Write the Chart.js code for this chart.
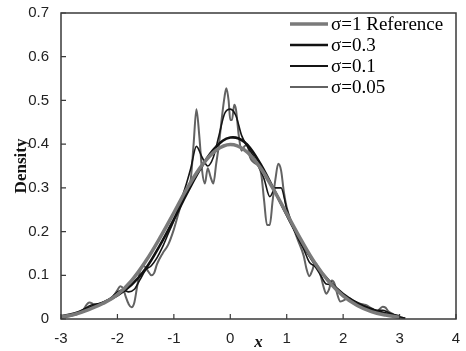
<!DOCTYPE html>
<html>
<head>
<meta charset="utf-8">
<script src="https://cdn.jsdelivr.net/npm/chart.js@4/dist/chart.umd.min.js"></script>
<style>
  body { margin: 0; background: #fff; }
  #wrap { width: 466px; height: 351px; }
</style>
</head>
<body>
<div id="wrap"><canvas id="chart1" width="466" height="351"></canvas></div>
<script>
// labels for the four curves
const seriesNames = ['σ=1 Reference', 'σ=0.3', 'σ=0.1', 'σ=0.05'];

// axis ticks
const xTicks = [-3, -2, -1, 0, 1, 2, 3, 4];
const yTicks = [0, 0.1, 0.2, 0.3, 0.4, 0.5, 0.6, 0.7];

// smooth curves
const xSmooth = [-3, -2.75, -2.5, -2.25, -2, -1.75, -1.5, -1.25, -1, -0.75, -0.5, -0.25, 0,
                 0.25, 0.5, 0.75, 1, 1.25, 1.5, 1.75, 2, 2.25, 2.5, 2.75, 3];
const yRef = [0.005, 0.011, 0.022, 0.036, 0.056, 0.088, 0.132, 0.185, 0.243, 0.302, 0.352, 0.386, 0.399,
              0.387, 0.352, 0.300, 0.241, 0.182, 0.128, 0.085, 0.053, 0.031, 0.017, 0.009, 0.004];
const ySig03 = [0.006, 0.013, 0.026, 0.038, 0.054, 0.078, 0.115, 0.168, 0.228, 0.292, 0.350, 0.394, 0.415,
                0.405, 0.362, 0.302, 0.238, 0.178, 0.126, 0.087, 0.057, 0.036, 0.022, 0.013, 0.006];

// sigma = 0.1
const xSig01 = [-3.0, -2.9, -2.8, -2.7, -2.6, -2.5, -2.4, -2.3, -2.2, -2.1, -2.0, -1.9, -1.8, -1.7, -1.6,
                -1.5, -1.4, -1.3, -1.2, -1.1, -1.0, -0.9, -0.8, -0.7, -0.6, -0.5, -0.4, -0.3, -0.2, -0.1,
                0.0, 0.1, 0.2, 0.3, 0.4, 0.5, 0.6, 0.7, 0.8, 0.9, 1.0, 1.1, 1.2, 1.3, 1.4, 1.5, 1.6, 1.7,
                1.8, 1.9, 2.0, 2.1, 2.2, 2.3, 2.4, 2.5, 2.6, 2.7, 2.8, 2.9, 3.0, 3.1];
const ySig01 = [0.004, 0.006, 0.009, 0.014, 0.022, 0.030, 0.034, 0.036, 0.041, 0.050, 0.062, 0.066, 0.062, 0.068, 0.090,
                0.112, 0.122, 0.140, 0.165, 0.195, 0.225, 0.262, 0.300, 0.345, 0.395, 0.370, 0.350, 0.370, 0.420, 0.470,
                0.480, 0.465, 0.420, 0.395, 0.375, 0.350, 0.320, 0.280, 0.300, 0.300, 0.252, 0.215, 0.185, 0.160, 0.130, 0.120, 0.100, 0.080,
                0.078, 0.065, 0.052, 0.045, 0.040, 0.033, 0.028, 0.024, 0.020, 0.020, 0.015, 0.010, 0.005, 0.002];

// sigma = 0.05
const xSig005 = [-3.0, -2.9, -2.8, -2.7, -2.6, -2.55, -2.5, -2.45, -2.4, -2.3, -2.2, -2.1, -2.0, -1.95, -1.9,
                 -1.85, -1.8, -1.75, -1.7, -1.65, -1.6, -1.55, -1.5, -1.45, -1.4, -1.35, -1.3, -1.2, -1.1, -1.0,
                 -0.9, -0.8, -0.75, -0.7, -0.65, -0.6, -0.55, -0.5, -0.45, -0.4, -0.35, -0.3, -0.25, -0.2, -0.15,
                 -0.1, -0.07, -0.03, 0.0, 0.03, 0.07, 0.1, 0.15, 0.2, 0.25, 0.3, 0.35, 0.4, 0.45, 0.5, 0.55,
                 0.6, 0.65, 0.7, 0.75, 0.8, 0.85, 0.9, 0.95, 1.0, 1.1, 1.2, 1.3, 1.35, 1.4, 1.45, 1.5, 1.55,
                 1.6, 1.65, 1.7, 1.75, 1.8, 1.85, 1.9, 1.95, 2.0, 2.1, 2.2, 2.3, 2.4, 2.5, 2.6, 2.7, 2.75,
                 2.8, 2.9, 3.0, 3.1];
const ySig005 = [0.003, 0.005, 0.008, 0.012, 0.022, 0.032, 0.038, 0.036, 0.030, 0.033, 0.040, 0.048, 0.066, 0.075, 0.070,
                 0.050, 0.034, 0.027, 0.038, 0.075, 0.110, 0.122, 0.118, 0.108, 0.100, 0.105, 0.125, 0.150, 0.170, 0.205,
                 0.250, 0.290, 0.300, 0.320, 0.400, 0.480, 0.420, 0.340, 0.310, 0.345, 0.325, 0.310, 0.355, 0.400, 0.460,
                 0.510, 0.528, 0.500, 0.455, 0.455, 0.490, 0.480, 0.420, 0.385, 0.395, 0.400, 0.370, 0.360, 0.355, 0.350, 0.330,
                 0.270, 0.215, 0.215, 0.270, 0.320, 0.355, 0.340, 0.290, 0.255, 0.215, 0.180, 0.145, 0.115, 0.098, 0.110, 0.128, 0.120,
                 0.100, 0.075, 0.058, 0.068, 0.088, 0.080, 0.055, 0.040, 0.042, 0.048, 0.040, 0.035, 0.032, 0.025, 0.018, 0.028, 0.026,
                 0.018, 0.010, 0.004, 0.002];

function pts(xs, ys) {
  return xs.map((x, i) => ({ x: x, y: ys[i] }));
}

const lineStyles = [
  { color: '#7a7a7a', width: 3.5 },
  { color: '#111111', width: 2.6 },
  { color: '#151515', width: 1.6 },
  { color: '#626262', width: 2 }
];

// frame + inward ticks
const framePlugin = {
  id: 'frame',
  afterDraw(chart) {
    const ctx = chart.ctx;
    const a = chart.chartArea;
    ctx.save();
    ctx.strokeStyle = '#3a3a3a';
    ctx.lineWidth = 1.5;
    ctx.strokeRect(a.left, a.top, a.right - a.left, a.bottom - a.top);
    ctx.lineWidth = 1.2;
    const xs = chart.scales.x, ys = chart.scales.y;
    ctx.beginPath();
    xs.ticks.forEach(t => {
      const p = xs.getPixelForValue(t.value);
      ctx.moveTo(p, a.bottom); ctx.lineTo(p, a.bottom - 5);
    });
    ys.ticks.forEach(t => {
      const p = ys.getPixelForValue(t.value);
      ctx.moveTo(a.left, p); ctx.lineTo(a.left + 5, p);
    });
    ctx.stroke();
    ctx.restore();
  }
};

// legend in the top right corner
const legendPlugin = {
  id: 'cornerLegend',
  afterDatasetsDraw(chart) {
    const ctx = chart.ctx;
    ctx.save();
    ctx.font = '19px "Liberation Serif", "Times New Roman", serif';
    ctx.textBaseline = 'middle';
    ctx.fillStyle = '#000';
    const rows = [24, 45, 66, 87];
    chart.data.datasets.forEach((ds, i) => {
      ctx.strokeStyle = ds.borderColor;
      ctx.lineWidth = Math.max(ds.borderWidth, 1.8);
      ctx.beginPath();
      ctx.moveTo(290, rows[i]);
      ctx.lineTo(328, rows[i]);
      ctx.stroke();
      ctx.fillText(ds.label, 331, rows[i] + 1);
    });
    ctx.restore();
  }
};

const ctx = document.getElementById('chart1');
new Chart(ctx, {
  type: 'line',
  data: {
    datasets: [
      { label: seriesNames[0], data: pts(xSmooth, yRef), tension: 0.4 },
      { label: seriesNames[1], data: pts(xSmooth, ySig03), tension: 0.4 },
      { label: seriesNames[2], data: pts(xSig01, ySig01), cubicInterpolationMode: 'monotone' },
      { label: seriesNames[3], data: pts(xSig005, ySig005), cubicInterpolationMode: 'monotone' }
    ].map((d, i) => Object.assign(d, {
      borderColor: lineStyles[i].color,
      borderWidth: lineStyles[i].width,
      pointRadius: 0,
      fill: false
    }))
  },
  options: {
    responsive: false,
    animation: false,
    events: [],
    layout: { padding: { left: 0, top: 11, right: 10, bottom: 0 } },
    plugins: {
      legend: { display: false },
      tooltip: { enabled: false }
    },
    scales: {
      x: {
        type: 'linear',
        min: -3, max: 4,
        afterBuildTicks: s => { s.ticks = xTicks.map(v => ({ value: v })); },
        afterFit: s => { s.height = 32; },
        grid: { display: false },
        border: { display: false },
        ticks: {
          padding: 3,
          color: '#222',
          font: { family: '"Liberation Sans", Arial, sans-serif', size: 15 }
        },
        title: {
          display: true,
          text: 'x',
          color: '#111',
          padding: { top: 0, bottom: 0 },
          font: { family: '"Liberation Serif", "Times New Roman", serif', size: 17, style: 'italic', weight: 'bold', lineHeight: 1 }
        }
      },
      y: {
        min: 0, max: 0.7,
        afterBuildTicks: s => { s.ticks = yTicks.map(v => ({ value: v })); },
        afterFit: s => { s.width = 61; },
        grid: { display: false },
        border: { display: false },
        ticks: {
          padding: 4,
          color: '#222',
          font: { family: '"Liberation Sans", Arial, sans-serif', size: 15 }
        },
        title: {
          display: true,
          text: 'Density',
          color: '#111',
          padding: { top: 13, bottom: 0 },
          font: { family: '"Liberation Serif", "Times New Roman", serif', size: 17, weight: 'bold', lineHeight: 1 }
        }
      }
    }
  },
  plugins: [framePlugin, legendPlugin]
});
</script>
</body>
</html>
